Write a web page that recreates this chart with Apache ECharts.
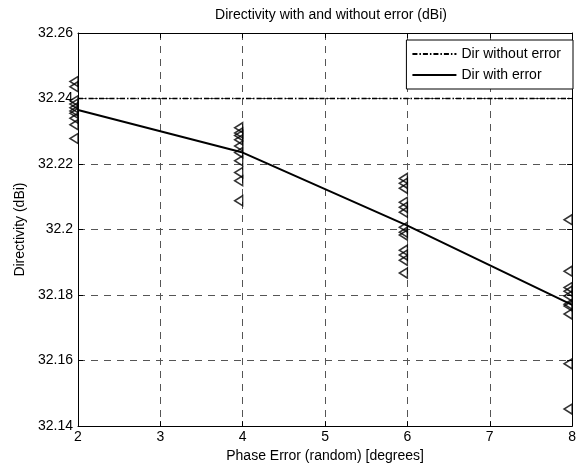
<!DOCTYPE html>
<html>
<head>
<meta charset="utf-8">
<script src="https://cdn.jsdelivr.net/npm/echarts@6/dist/echarts.min.js"></script>
<style>
  html, body { margin: 0; padding: 0; background: #fff; }
  #chart { width: 579px; height: 468px; }
</style>
</head>
<body>
<div id="chart"></div>
<script>
// Phase error settings (degrees)
const phaseErrors = [2, 4, 6, 8];
// Directivity without phase error (dBi)
const dirWithoutError = 32.24;
// Mean directivity with random phase error (dBi)
const dirWithError = [32.2365, 32.2235, 32.2012, 32.1770];
// Individual random trials (dBi) for each phase error
const trials2 = [32.2452, 32.2436, 32.2393, 32.2383, 32.2372, 32.2362, 32.2355, 32.2340, 32.2320, 32.2278];
const trials4 = [32.2311, 32.2295, 32.2287, 32.2274, 32.2255, 32.2235, 32.2210, 32.2174, 32.2149, 32.2088];
const trials6 = [32.2156, 32.2141, 32.2126, 32.2083, 32.2068, 32.2053, 32.2007, 32.1992, 32.1983, 32.1937, 32.1922, 32.1906, 32.1867];
const trials8 = [32.2030, 32.1873, 32.1823, 32.1812, 32.1797, 32.1772, 32.1767, 32.1742, 32.1590, 32.1452];
// Axis ranges
const xRange = { min: 2, max: 8, step: 1 };
const yRange = { min: 32.14, max: 32.26, step: 0.02 };

const FONT = 'Liberation Sans, Arial, Helvetica, sans-serif';
const FS = 14;

const trialPoints = [];
[[2, trials2], [4, trials4], [6, trials6], [8, trials8]].forEach(([x, list]) => {
  list.forEach(v => trialPoints.push([x, v]));
});

const gridLine = { show: true, lineStyle: { color: '#555', width: 1, type: [7, 6] } };
const frameAxis = {
  axisLine: { show: true, lineStyle: { color: '#000', width: 1 } },
  axisTick: { show: true, inside: true, length: 5, lineStyle: { color: '#000' } },
  axisLabel: { show: false },
  splitLine: { show: false }
};

const chart = echarts.init(document.getElementById('chart'), null, { renderer: 'canvas' });
chart.setOption({
  animation: false,
  backgroundColor: '#fff',
  title: {
    text: 'Directivity with and without error (dBi)',
    left: 326,
    top: 3,
    textAlign: 'center',
    textStyle: { fontFamily: FONT, fontSize: FS, fontWeight: 'normal', color: '#000' }
  },
  legend: {
    right: 6,
    top: 40,
    orient: 'vertical',
    data: ['Dir without error', 'Dir with error'],
    backgroundColor: '#fff',
    borderColor: '#000',
    borderWidth: 1,
    borderRadius: 0,
    padding: [7, 12, 7, 5],
    itemGap: 7,
    itemWidth: 44,
    itemHeight: 14,
    itemStyle: { color: 'rgba(0,0,0,0)', borderWidth: 0 },
    textStyle: { fontFamily: FONT, fontSize: FS, color: '#000' }
  },
  grid: { left: 78, right: 4, top: 33, bottom: 39, containLabel: false },
  xAxis: [
    {
      type: 'value', position: 'bottom', min: xRange.min, max: xRange.max, interval: xRange.step,
      name: 'Phase Error (random) [degrees]', nameLocation: 'middle', nameGap: 22,
      nameTextStyle: { fontFamily: FONT, fontSize: FS, color: '#000' },
      axisLine: { show: true, lineStyle: { color: '#000', width: 1 } },
      axisTick: { show: true, inside: true, length: 5, lineStyle: { color: '#000' } },
      axisLabel: { fontFamily: FONT, fontSize: FS, color: '#000', margin: 4 },
      splitLine: gridLine
    },
    Object.assign({
      type: 'value', position: 'top', min: xRange.min, max: xRange.max, interval: xRange.step
    }, frameAxis)
  ],
  yAxis: [
    {
      type: 'value', position: 'left', min: yRange.min, max: yRange.max, interval: yRange.step,
      name: 'Directivity (dBi)', nameLocation: 'middle', nameGap: 50,
      nameTextStyle: { fontFamily: FONT, fontSize: FS, color: '#000' },
      axisLine: { show: true, lineStyle: { color: '#000', width: 1 } },
      axisTick: { show: true, inside: true, length: 5, lineStyle: { color: '#000' } },
      axisLabel: {
        fontFamily: FONT, fontSize: FS, color: '#000', margin: 5,
        formatter: v => String(parseFloat(v.toFixed(2)))
      },
      splitLine: gridLine
    },
    Object.assign({
      type: 'value', position: 'right', min: yRange.min, max: yRange.max, interval: yRange.step
    }, frameAxis)
  ],
  series: [
    {
      name: 'Dir without error',
      type: 'line',
      data: [[xRange.min, dirWithoutError], [xRange.max, dirWithoutError]],
      symbol: 'none',
      lineStyle: { color: '#000', width: 1.5, type: [5, 2, 1.5, 2] },
      itemStyle: { color: '#000' },
      z: 3
    },
    {
      name: 'Dir with error',
      type: 'line',
      data: phaseErrors.map((x, i) => [x, dirWithError[i]]),
      symbol: 'none',
      lineStyle: { color: '#000', width: 2 },
      itemStyle: { color: '#000' },
      z: 3
    },
    {
      name: 'trials',
      type: 'scatter',
      data: trialPoints,
      symbol: 'path://M0,5L9,0L9,10Z',
      symbolSize: [8, 10],
      symbolOffset: [-4, 0],
      symbolKeepAspect: false,
      clip: false,
      itemStyle: { color: 'rgba(0,0,0,0)', borderColor: '#000', borderWidth: 1.5 },
      z: 4
    }
  ]
});
</script>
</body>
</html>
